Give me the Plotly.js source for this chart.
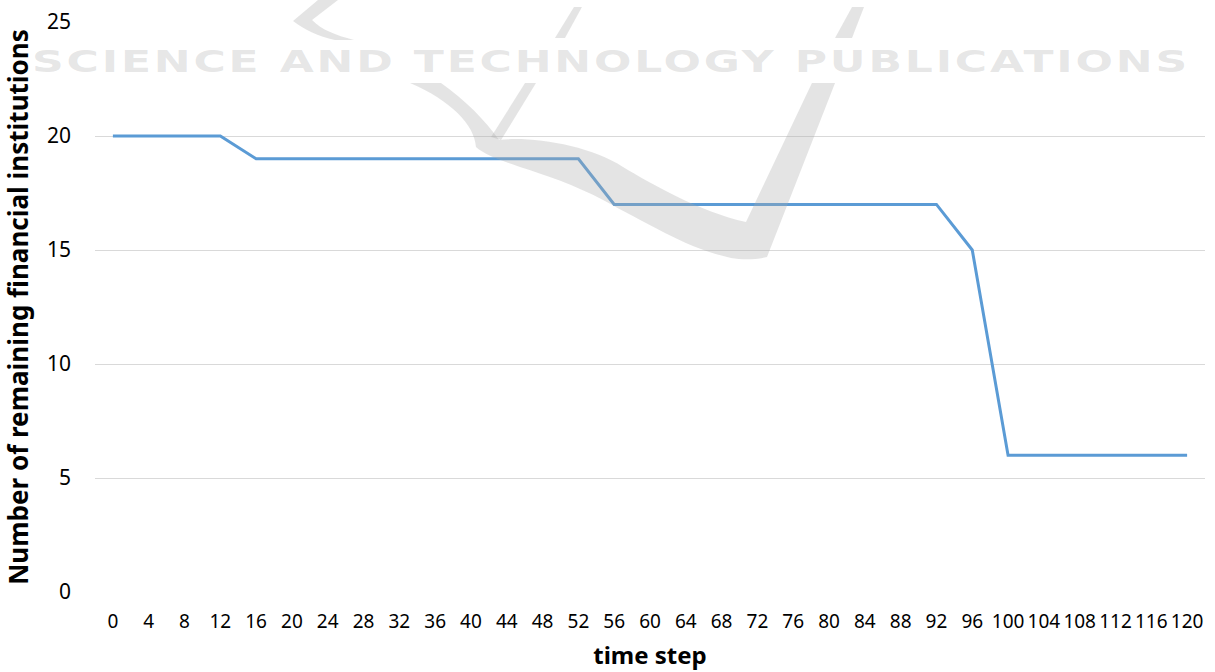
<!DOCTYPE html>
<html>
<head>
<meta charset="utf-8">
<script src="https://cdn.plot.ly/plotly-3.0.1.min.js"></script>
<style>
html,body{margin:0;padding:0;background:#fff;}
#chart{width:1215px;height:672px;}
.annotation-text{letter-spacing:2px;transform-box:fill-box;transform-origin:left center;transform:scaleX(1.42);}
</style>
</head>
<body>
<div id="chart"></div>
<script>
const timeSteps = ["0","4","8","12","16","20","24","28","32","36","40","44","48","52","56","60","64","68","72","76","80","84","88","92","96","100","104","108","112","116","120"];
const remaining = [20,20,20,20,19,19,19,19,19,19,19,19,19,19,17,17,17,17,17,17,17,17,17,17,15,6,6,6,6,6,6];
const yTicks = [0,5,10,15,20,25];

// watermark decoration (pixel outline converted to paper coordinates)
const PL = 95, PW = 1110, PB = 592, PH = 570;
function wm(d) {
  return d.replace(/(-?[\d.]+),(-?[\d.]+)/g, (m, X, Y) =>
    ((+X - PL) / PW).toFixed(4) + ',' + ((PB - +Y) / PH).toFixed(4));
}
const wmColor = 'rgba(170,170,170,0.32)';
const wmPaths = [
  'M 410,83 L 441,83 C 465,100 485,120 499,140 C 530,136 590,145 623,167 C 650,183 700,212 746,222 L 812,83 L 835,83 L 767,257 C 755,260 742,260 731,258 C 705,252 685,243 665,233 C 640,220 625,212 603,200 C 575,185 545,175 520,167 C 500,160 485,155 476,147 C 475,125 450,100 410,83 Z',
  'M 525,83 L 536,83 L 501,140 L 491,137 Z',
  'M 555,38 L 574,7 L 582,7 L 565,38 Z',
  'M 835,38 L 852,7 L 864,7 L 852,38 Z',
  'M 318,0 L 338,0 L 312,20 C 322,30 335,35 354,40 L 335,40 C 318,36 305,30 293,21 Z'
];

const trace = {
  x: timeSteps,
  y: remaining,
  type: 'scatter',
  mode: 'lines',
  line: {color: '#5B9BD5', width: 3},
  hoverinfo: 'skip'
};

const layout = {
  width: 1215, height: 672,
  margin: {l: 95, r: 10, t: 22, b: 80},
  paper_bgcolor: '#ffffff', plot_bgcolor: '#ffffff',
  showlegend: false,
  font: {family: 'Noto Sans, sans-serif', color: '#000'},
  xaxis: {
    type: 'category',
    range: [-0.5, timeSteps.length - 0.5],
    showgrid: false, zeroline: false, showline: false,
    ticks: '', tickfont: {size: 19, color: '#000'},
    ticklabelstandoff: 16,
    tickangle: 0,
    title: {text: '<b>time step</b>', font: {size: 24, color: '#000'}, standoff: 14},
    fixedrange: true
  },
  yaxis: {
    range: [0, 25],
    tickvals: yTicks,
    showgrid: true, gridcolor: '#d9d9d9', gridwidth: 1,
    zeroline: false, showline: false,
    ticks: '', tickfont: {size: 21, color: '#000'},
    ticklabelstandoff: 23,
    title: {text: '<b>Number of remaining financial institutions</b>', font: {size: 26, color: '#000'}, standoff: 12},
    fixedrange: true
  },
  shapes: wmPaths.map(p => ({
    type: 'path', xref: 'paper', yref: 'paper', path: wm(p),
    fillcolor: wmColor, line: {width: 0}, layer: 'above'
  })),
  annotations: [{
    xref: 'paper', yref: 'paper', x: (30 - PL) / PW, y: (PB - 62) / PH,
    xanchor: 'left', yanchor: 'middle',
    text: '<b>SCIENCE AND TECHNOLOGY PUBLICATIONS</b>',
    showarrow: false,
    font: {family: 'DejaVu Sans', size: 31, color: 'rgba(170,170,170,0.3)'}
  }]
};

Plotly.newPlot('chart', [trace], layout, {displayModeBar: false, staticPlot: true});
</script>
</body>
</html>
